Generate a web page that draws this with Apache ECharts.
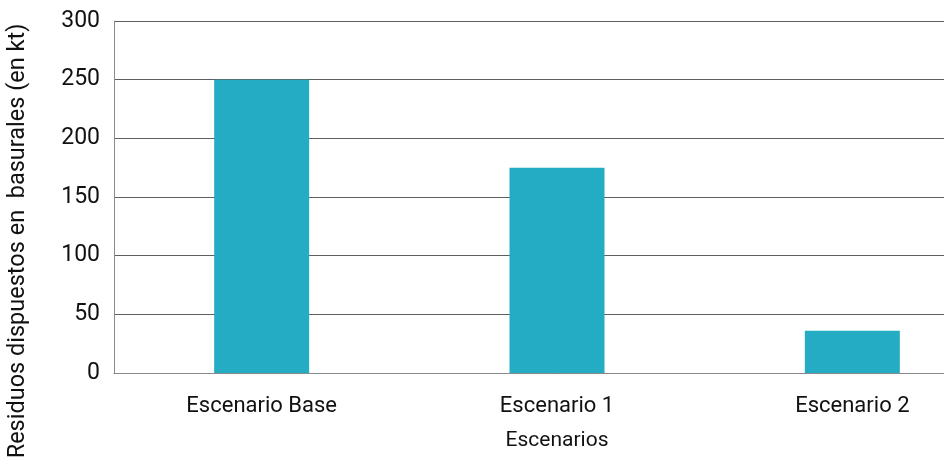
<!DOCTYPE html>
<html>
<head>
<meta charset="utf-8">
<script src="https://cdn.jsdelivr.net/npm/echarts@6/dist/echarts.min.js"></script>
<style>
  html, body { margin: 0; padding: 0; background: #fff; overflow: hidden; }
  #chart { width: 1000px; height: 466px; }
</style>
</head>
<body>
<div id="chart"></div>
<script>
// Residuos dispuestos en basurales por escenario (kt)
const categories = ['Escenario Base', 'Escenario 1', 'Escenario 2'];
const residuos = [250, 175, 36];
const yTicks = { min: 0, max: 300, interval: 50 };

const FONT = 'Roboto';
const chart = echarts.init(document.getElementById('chart'), null, { renderer: 'canvas' });

chart.setOption({
  animation: false,
  backgroundColor: '#ffffff',
  textStyle: { fontFamily: FONT },
  // the plot runs on past the right edge of the visible window
  grid: { left: 114, right: 0, top: 21, bottom: 93, containLabel: false },
  xAxis: {
    type: 'category',
    data: categories,
    name: 'Escenarios',
    nameLocation: 'middle',
    nameGap: 57,
    nameTextStyle: { color: '#111', fontSize: 21, fontFamily: FONT },
    axisLine: { show: true, lineStyle: { color: '#8a8a8a', width: 1 } },
    axisTick: { show: false },
    axisLabel: { color: '#111', fontSize: 22, margin: 22, fontFamily: FONT }
  },
  yAxis: {
    type: 'value',
    min: yTicks.min,
    max: yTicks.max,
    interval: yTicks.interval,
    axisLine: { show: true, lineStyle: { color: '#8a8a8a', width: 1 } },
    axisTick: { show: false },
    axisLabel: { color: '#111', fontSize: 23, margin: 14, fontFamily: FONT },
    splitLine: { show: true, lineStyle: { color: '#5e5e5e', width: 1 } }
  },
  graphic: [{
    type: 'text',
    rotation: Math.PI / 2,
    x: 18,
    y: 241,
    style: {
      text: 'Residuos dispuestos en  basurales (en kt)',
      fill: '#111',
      font: '23.5px ' + FONT,
      textAlign: 'center',
      textVerticalAlign: 'middle'
    }
  }],
  series: [{
    type: 'bar',
    data: residuos,
    barWidth: 95,
    itemStyle: { color: '#25ACC5' },
    z: 3
  }]
});
</script>
</body>
</html>
